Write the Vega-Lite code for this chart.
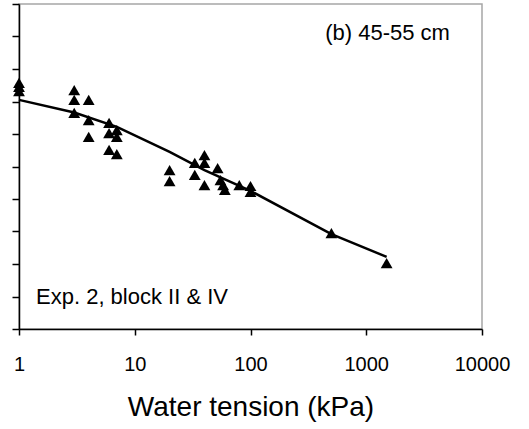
{
  "$schema": "https://vega.github.io/schema/vega-lite/v6.json",
  "width": 463,
  "height": 325,
  "autosize": "none",
  "padding": {"left": 19, "top": 4, "right": 47, "bottom": 100},
  "background": "white",
  "config": {
    "view": {"stroke": "#a6a6a6", "strokeWidth": 1.5},
    "font": "Liberation Sans"
  },
  "datasets": {
    "obs": [
      {"tension": 1, "value": 7.57}, {"tension": 1, "value": 7.45}, {"tension": 1, "value": 7.32},
      {"tension": 3, "value": 7.35}, {"tension": 3, "value": 7.05}, {"tension": 3, "value": 6.65},
      {"tension": 4, "value": 7.05}, {"tension": 4, "value": 6.43}, {"tension": 4, "value": 5.91},
      {"tension": 6, "value": 6.34}, {"tension": 6, "value": 6.03}, {"tension": 6, "value": 5.51},
      {"tension": 7, "value": 6.12}, {"tension": 7, "value": 5.91}, {"tension": 7, "value": 5.38},
      {"tension": 20, "value": 4.89}, {"tension": 20, "value": 4.55},
      {"tension": 33, "value": 5.11}, {"tension": 33, "value": 4.74},
      {"tension": 40, "value": 5.35}, {"tension": 40, "value": 5.11}, {"tension": 40, "value": 4.43},
      {"tension": 52, "value": 4.95},
      {"tension": 55, "value": 4.58}, {"tension": 58, "value": 4.43}, {"tension": 60, "value": 4.28},
      {"tension": 80, "value": 4.43},
      {"tension": 100, "value": 4.40}, {"tension": 100, "value": 4.22},
      {"tension": 500, "value": 2.95},
      {"tension": 1500, "value": 2.03}
    ],
    "fit": [
      {"tension": 1, "value": 7.05},
      {"tension": 3, "value": 6.66},
      {"tension": 7, "value": 6.22},
      {"tension": 20, "value": 5.45},
      {"tension": 40, "value": 4.89},
      {"tension": 100, "value": 4.25},
      {"tension": 500, "value": 2.92},
      {"tension": 1500, "value": 2.22}
    ],
    "notes": [
      {"tension": 1527, "value": 9.11, "label": "(b) 45-55 cm", "kind": "center"},
      {"tension": 1.403, "value": 0.985, "label": "Exp. 2, block II & IV", "kind": "left"}
    ]
  },
  "layer": [
    {
      "data": {"name": "fit"},
      "mark": {"type": "line", "color": "black", "strokeWidth": 2.5},
      "encoding": {
        "x": {
          "field": "tension", "type": "quantitative",
          "scale": {"type": "log", "domain": [1, 10000], "nice": false},
          "axis": {
            "values": [1, 10, 100, 1000, 10000], "format": "d",
            "title": "Water tension (kPa)", "titleFontSize": 28, "titleFontWeight": "normal",
            "titleColor": "black", "titlePadding": 19,
            "labelFontSize": 20, "labelColor": "black", "labelPadding": 19, "labelFlush": false,
            "tickSize": 6, "tickColor": "black", "tickWidth": 1.5,
            "domainColor": "black", "domainWidth": 1.5, "grid": false
          }
        },
        "y": {
          "field": "value", "type": "quantitative",
          "scale": {"domain": [0, 10], "nice": false},
          "axis": {
            "values": [0, 1, 2, 3, 4, 5, 6, 7, 8, 9, 10], "tickCount": 20,
            "labels": false, "labelOverlap": false, "title": null,
            "tickSize": 7, "tickColor": "black", "tickWidth": 1.5,
            "domainColor": "black", "domainWidth": 1.5, "grid": false
          }
        }
      }
    },
    {
      "data": {"name": "obs"},
      "mark": {"type": "point", "shape": "triangle-up", "filled": true, "color": "black", "opacity": 1, "size": 140},
      "encoding": {
        "x": {"field": "tension", "type": "quantitative"},
        "y": {"field": "value", "type": "quantitative"}
      }
    },
    {
      "data": {"name": "notes"},
      "transform": [{"filter": "datum.kind === 'center'"}],
      "mark": {"type": "text", "fontSize": 22, "align": "center", "baseline": "middle", "color": "black"},
      "encoding": {
        "x": {"field": "tension", "type": "quantitative"},
        "y": {"field": "value", "type": "quantitative"},
        "text": {"field": "label"}
      }
    },
    {
      "data": {"name": "notes"},
      "transform": [{"filter": "datum.kind === 'left'"}],
      "mark": {"type": "text", "fontSize": 22, "align": "left", "baseline": "middle", "color": "black"},
      "encoding": {
        "x": {"field": "tension", "type": "quantitative"},
        "y": {"field": "value", "type": "quantitative"},
        "text": {"field": "label"}
      }
    }
  ]
}
